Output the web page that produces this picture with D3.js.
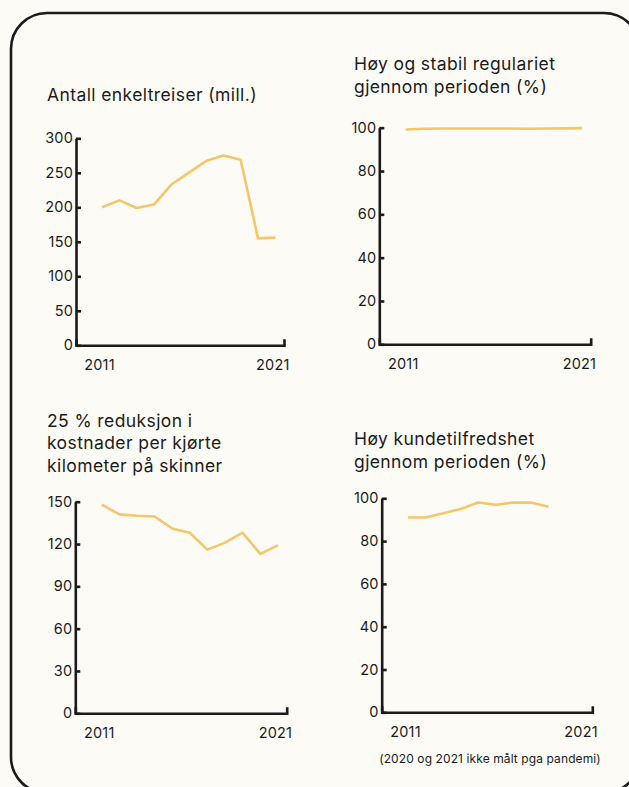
<!DOCTYPE html>
<html>
<head>
<meta charset="utf-8">
<script src="https://cdn.jsdelivr.net/npm/d3@7"></script>
<style>
  html, body { margin: 0; padding: 0; background: #fcfbf6; }
  svg { display: block; }
  text { font-family: Inter, "Noto Sans", sans-serif; fill: #1b1b1b; }
</style>
</head>
<body>
<svg id="chart" width="629" height="787"></svg>
<script>
// data
const years = [2011, 2012, 2013, 2014, 2015, 2016, 2017, 2018, 2019, 2020, 2021];
const yearLabels = [2011, 2021];

const tripsValues = [200, 210, 199, 204, 233, 250, 267, 275, 269, 155, 156];
const regularityValues = [99.2, 99.5, 99.6, 99.6, 99.6, 99.6, 99.6, 99.5, 99.6, 99.7, 99.8];
const costValues = [148, 141, 140, 139.5, 131, 128, 116, 121, 128, 113, 119];
const satisfactionValues = [91, 91, 93, 95, 98, 97, 98, 98, 96]; // 2011-2019 only

const tripsTicks = [0, 50, 100, 150, 200, 250, 300];
const percentTicks = [0, 20, 40, 60, 80, 100];
const costTicks = [0, 30, 60, 90, 120, 150];

const tripsTitle = ["Antall enkeltreiser (mill.)"];
const regularityTitle = ["Høy og stabil regulariet", "gjennom perioden (%)"];
const costTitle = ["25 % reduksjon i", "kostnader per kjørte", "kilometer på skinner"];
const satisfactionTitle = ["Høy kundetilfredshet", "gjennom perioden (%)"];
const footnote = "(2020 og 2021 ikke målt pga pandemi)";

const lineColor = "#f6c66a";
const ink = "#1b1b1b";

const svg = d3.select("#chart");

// rounded frame, runs off the right and bottom edges
svg.append("rect")
  .attr("x", 11).attr("y", 13)
  .attr("width", 629).attr("height", 780)
  .attr("rx", 36).attr("ry", 36)
  .attr("fill", "#fcfbf6")
  .attr("stroke", ink)
  .attr("stroke-width", 2.6);

const panels = [
  {title: tripsTitle, tx: 47, ty: 101, values: tripsValues, ticks: tripsTicks,
   left: 76, right: 284, top: 138.3, bottom: 345.3},
  {title: regularityTitle, tx: 354, ty: 70, values: regularityValues, ticks: percentTicks,
   left: 379.3, right: 590.7, top: 127.7, bottom: 344.3},
  {title: costTitle, tx: 47, ty: 426.5, values: costValues, ticks: costTicks,
   left: 75.3, right: 286.7, top: 501.7, bottom: 713.3},
  {title: satisfactionTitle, tx: 354, ty: 445, values: satisfactionValues, ticks: percentTicks,
   left: 381.7, right: 592.3, top: 498.3, bottom: 712.3}
];

panels.forEach(p => {
  let x = d3.scaleLinear()
    .domain([2009.5, 2021.5])
    .range([p.left, p.right]);

  let y = d3.scaleLinear()
    .domain([0, d3.max(p.ticks)])
    .range([p.bottom, p.top]);

  // title
  let t = svg.append("text")
    .attr("x", p.tx)
    .attr("y", p.ty)
    .style("font-size", "17.5px")
    .style("letter-spacing", "0.4px");
  p.title.forEach((line, i) => {
    t.append("tspan")
      .attr("x", p.tx)
      .attr("dy", i === 0 ? 0 : 22.8)
      .text(line);
  });

  // y axis, ticks point inwards
  let gy = svg.append("g")
    .attr("transform", "translate(" + p.left + ",0)")
    .call(d3.axisLeft(y).tickValues(p.ticks).tickSizeInner(-5).tickSizeOuter(0).tickPadding(3));

  // x axis, only a small upturned end tick
  let gx = svg.append("g")
    .attr("transform", "translate(0," + p.bottom + ")")
    .call(d3.axisBottom(x).tickValues(yearLabels).tickFormat(d3.format("d"))
      .tickSizeInner(0).tickSizeOuter(-6).tickPadding(14));

  [gx, gy].forEach(g => {
    g.attr("font-family", null).attr("font-size", null);
    g.selectAll("path, line").attr("stroke", ink).attr("stroke-width", 2.6);
    g.selectAll("text").attr("fill", ink).style("font-size", "14.5px").style("letter-spacing", "0.2px");
  });
  gx.selectAll("text").attr("dx", -3);

  let line = d3.line()
    .x((d, i) => x(years[i]))
    .y(d => y(d));

  svg.append("path")
    .datum(p.values)
    .attr("fill", "none")
    .attr("stroke", lineColor)
    .attr("stroke-width", 2.6)
    .attr("stroke-linejoin", "round")
    .attr("d", line);
});

svg.append("text")
  .attr("x", 490)
  .attr("y", 763)
  .attr("text-anchor", "middle")
  .style("font-size", "12px")
  .style("letter-spacing", "0.1px")
  .text(footnote);
</script>
</body>
</html>
